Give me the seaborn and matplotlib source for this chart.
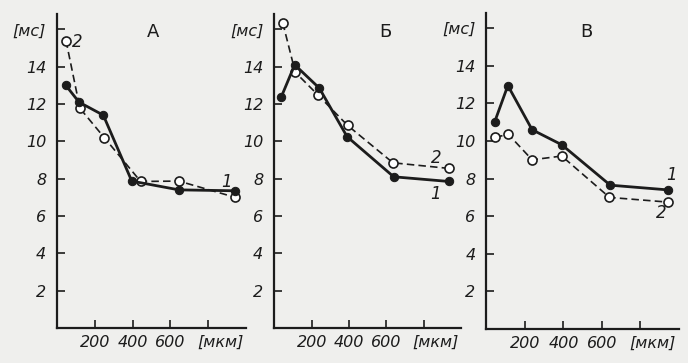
import matplotlib
matplotlib.use("Agg")
import matplotlib.pyplot as plt
import matplotlib.transforms as mtransforms
import pandas as pd
import seaborn as sns

sns.set_style("ticks")
plt.rcParams['font.family'] = ['DejaVu Sans']

# distances [мкм] and times [мс]
panels = ['А', 'Б', 'В']
x_s1 = {'А': [45, 115, 244, 395, 645, 943],
        'Б': [38, 109, 241, 390, 640, 935],
        'В': [42, 111, 237, 391, 643, 942]}
y_s1 = {'А': [13.0, 12.1, 11.4, 7.87, 7.4, 7.35],
        'Б': [12.4, 14.1, 12.85, 10.25, 8.1, 7.85],
        'В': [11.0, 12.95, 10.6, 9.8, 7.65, 7.4]}
x_s2 = {'А': [46, 120, 249, 442, 645, 943],
        'Б': [45, 112, 232, 393, 636, 935],
        'В': [45, 114, 237, 391, 639, 942]}
y_s2 = {'А': [15.4, 11.77, 10.2, 7.85, 7.87, 7.0],
        'Б': [16.35, 13.7, 12.5, 10.85, 8.85, 8.55],
        'В': [10.2, 10.35, 9.0, 9.2, 7.0, 6.75]}

y_ticks = [2, 4, 6, 8, 10, 12, 14, 16]
y_ticklabels = ['2', '4', '6', '8', '10', '12', '14', '[мс]']
x_ticks = [200, 400, 600, 800]
x_ticklabels = ['200', '400', '600', '[мкм]']

# series label positions (data coords) per panel
lbl1 = {'А': (900, 7.8), 'Б': (865, 7.2), 'В': (962, 8.2)}
lbl2 = {'А': (108, 15.3), 'Б': (870, 9.1), 'В': (910, 6.17)}
title_pos = {'А': (508, 15.85), 'Б': (593, 15.85), 'В': (520, 15.8)}

rects = {'А': [0.0833, 0.0964, 0.274, 0.864],
         'Б': [0.3988, 0.0964, 0.271, 0.864],
         'В': [0.7071, 0.0937, 0.2798, 0.870]}

bg = '#efefed'
ink = '#1c1c1c'
fig = plt.figure(figsize=(6.88, 3.63), dpi=100, facecolor=bg)

for p in panels:
    ax = fig.add_axes(rects[p])
    ax.set_facecolor(bg)
    d1 = pd.DataFrame({'x': x_s1[p], 'y': y_s1[p]})
    d2 = pd.DataFrame({'x': x_s2[p], 'y': y_s2[p]})
    sns.lineplot(data=d2, x='x', y='y', ax=ax, sort=False, color=ink,
                 linewidth=1.2, dashes=False, linestyle=(0, (4.5, 2.5)),
                 marker='o', markersize=6.5, markerfacecolor='white',
                 markeredgecolor=ink, markeredgewidth=1.2, zorder=3)
    sns.lineplot(data=d1, x='x', y='y', ax=ax, sort=False, color=ink,
                 linewidth=2.0, marker='o', markersize=6,
                 markerfacecolor=ink, markeredgecolor=ink, zorder=4)

    ax.set_xlim(0, 1000)
    ax.set_ylim(0, 16.8)
    ax.set_xticks(x_ticks)
    ax.set_xticklabels(x_ticklabels, fontstyle='italic', fontsize=11.5)
    ax.set_yticks(y_ticks)
    ax.set_yticklabels(y_ticklabels, fontstyle='italic', fontsize=11.5)
    ax.tick_params(direction='in', length=6, width=1.2, colors=ink)
    ax.tick_params(axis='x', pad=5)
    ax.tick_params(axis='y', pad=8)
    # shift the unit label right of its tick, as in the print
    unit = ax.get_xticklabels()[-1]
    unit.set_transform(unit.get_transform() +
                       mtransforms.ScaledTranslation(0.12, 0, fig.dpi_scale_trans))
    ax.set_xlabel('')
    ax.set_ylabel('')
    sns.despine(ax=ax)
    for s in ['left', 'bottom']:
        ax.spines[s].set_linewidth(1.6)
        ax.spines[s].set_color(ink)

    ax.text(*title_pos[p], p, ha='center', va='center', fontsize=13,
            color=ink)
    ax.text(*lbl1[p], '1', ha='center', va='center', fontsize=12,
            style='italic', color=ink)
    ax.text(*lbl2[p], '2', ha='center', va='center', fontsize=12,
            style='italic', color=ink)

fig.savefig('out.png', dpi=100, facecolor=bg)
